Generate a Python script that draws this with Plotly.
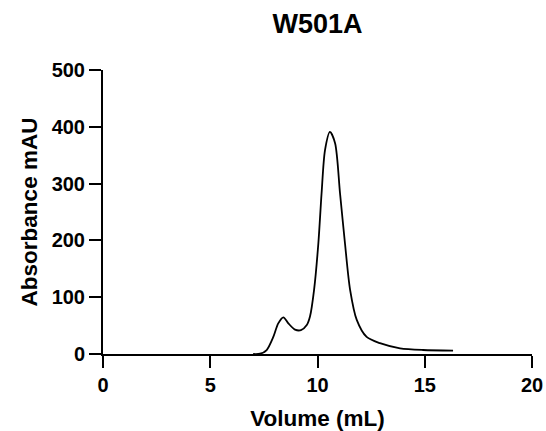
import plotly.graph_objects as go

volume_ml = [7.0, 7.32, 7.63, 7.94, 8.17, 8.41, 8.64, 8.95, 9.23, 9.5, 9.65, 9.84,
             10.04, 10.19, 10.35, 10.58, 10.82, 11.05, 11.28, 11.52, 11.83, 12.29, 12.91,
             13.85, 14.92, 16.32]
absorbance_mau = [0.0, 0.5, 7, 30, 54, 64.6, 54, 43, 42, 51, 66, 113,
                  195, 283, 359, 391, 371, 283, 195, 113, 60, 30, 19,
                  10, 7, 6]

x_ticks = [0, 5, 10, 15, 20]
y_ticks = [0, 100, 200, 300, 400, 500]

FONT = "Liberation Sans, Arial, sans-serif"

fig = go.Figure(go.Scatter(
    x=volume_ml, y=absorbance_mau, mode="lines",
    line=dict(color="black", width=1.8, shape="spline", smoothing=0.8),
    showlegend=False, hoverinfo="skip",
))

fig.update_layout(
    width=546, height=431,
    margin=dict(l=103, r=14, t=70, b=77),
    paper_bgcolor="white", plot_bgcolor="white",
    title=dict(text="<b>W501A</b>", xref="paper", x=0.5, xanchor="center",
               yref="container", y=0.945, yanchor="middle",
               font=dict(family=FONT, size=27, color="black")),
    font=dict(family=FONT, color="black"),
)
fig.update_xaxes(
    range=[0, 20], tickvals=x_ticks, ticktext=[f"<b>{v}</b>" for v in x_ticks],
    showgrid=False, zeroline=False, showline=True, linecolor="black", linewidth=2,
    ticks="outside", ticklen=12, tickwidth=2, tickcolor="black",
    tickfont=dict(family=FONT, size=20, color="black"), automargin=False,
    title=dict(text="<b>Volume (mL)</b>", font=dict(family=FONT, size=22.5, color="black"), standoff=15),
)
fig.update_yaxes(
    range=[0, 500], tickvals=y_ticks, ticktext=[f"<b>{v}</b>" for v in y_ticks],
    showgrid=False, zeroline=False, showline=True, linecolor="black", linewidth=2,
    ticks="outside", ticklen=12, tickwidth=2, tickcolor="black",
    tickfont=dict(family=FONT, size=20, color="black"), automargin=False,
    title=dict(text="<b>Absorbance mAU</b>", font=dict(family=FONT, size=22.5, color="black"), standoff=8),
)

fig.write_html("out.html", config={"displayModeBar": False},
               post_script="document.body.style.margin='0';")
